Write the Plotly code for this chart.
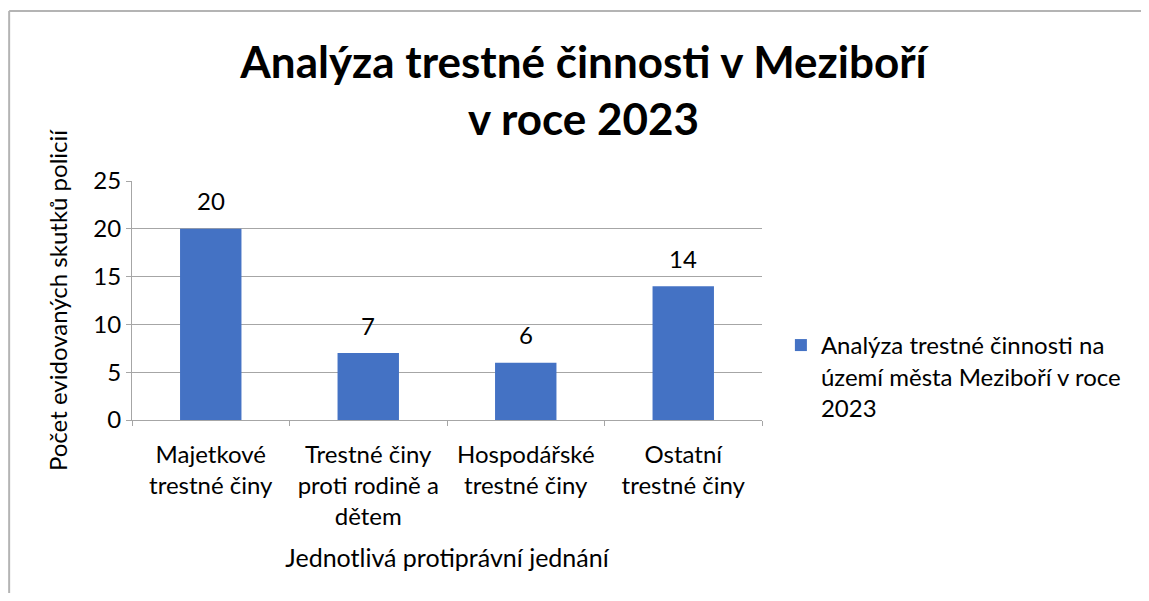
import plotly.graph_objects as go

categories = ['Majetkové<br>trestné činy', 'Trestné činy<br>proti rodině a<br>dětem',
              'Hospodářské<br>trestné činy', 'Ostatní<br>trestné činy']
values = [20, 7, 6, 14]
series_name = 'Analýza trestné činnosti na<br>území města Meziboří v roce<br>2023'

font = 'Lato, Open Sans, sans-serif'

fig = go.Figure()
fig.add_trace(go.Bar(
    x=categories,
    y=values,
    name=series_name,
    marker=dict(color='#4472C4', line=dict(width=0)),
    showlegend=True
))

# data labels above the bars
for c, v in zip(categories, values):
    fig.add_annotation(x=c, y=v, text=str(v), showarrow=False,
                       yanchor='middle', yshift=28,
                       font=dict(size=24, color='#000000'))

fig.update_layout(
    width=1133,
    height=585,
    margin=dict(l=124, r=379, t=173, b=173, autoexpand=False),
    paper_bgcolor='white',
    plot_bgcolor='white',
    font=dict(family=font, size=24, color='#000000'),
    title=dict(
        text='<b>Analýza trestné činnosti v Meziboří<br>v roce 2023</b>',
        x=0.508, xanchor='center',
        y=0.880, yanchor='middle',
        font=dict(size=44, family=font)
    ),
    bargap=0.61,
    legend=dict(
        x=1.030, xanchor='left',
        y=0.406, yanchor='top',
        valign='top',
        font=dict(size=24),
        itemwidth=30
    ),
    shapes=[
        dict(type='line', xref='paper', yref='paper',
             x0=-0.195, x1=2.0, y0=1.711, y1=1.711,
             line=dict(color='#b4b4b4', width=2)),
        dict(type='line', xref='paper', yref='paper',
             x0=-0.195, x1=-0.195, y0=-1.0, y1=1.711,
             line=dict(color='#b4b4b4', width=2))
    ]
)

fig.update_yaxes(
    range=[0, 25],
    dtick=5,
    showgrid=True,
    gridcolor='#a6a6a6',
    gridwidth=1,
    showline=True,
    linecolor='#a6a6a6',
    ticks='outside',
    ticklen=5,
    tickcolor='#a6a6a6',
    tickfont=dict(size=24),
    title=dict(text='Počet evidovaných skutků policií', font=dict(size=24), standoff=18),
    zeroline=False
)

fig.update_xaxes(
    showline=True,
    linecolor='#a6a6a6',
    ticks='outside',
    tickson='boundaries',
    ticklen=5,
    tickcolor='#a6a6a6',
    tickfont=dict(size=24),
    ticklabelstandoff=13,
    title=dict(text='Jednotlivá protiprávní jednání', font=dict(size=25), standoff=20)
)

fig.write_html('out.html')
